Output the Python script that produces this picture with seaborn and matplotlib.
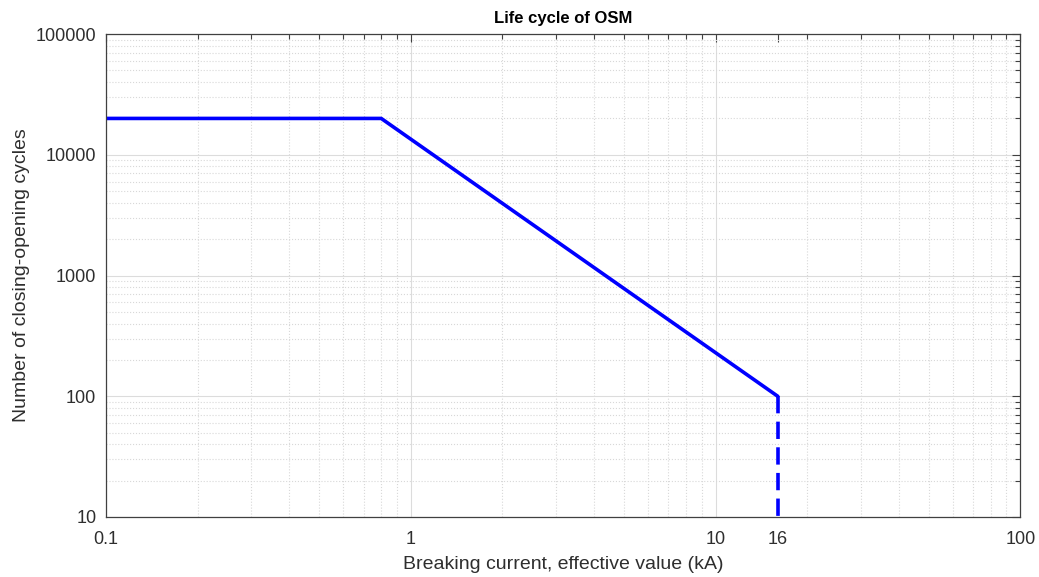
import pandas as pd
import matplotlib.pyplot as plt
import seaborn as sns
from matplotlib.ticker import FixedLocator, LogLocator, NullFormatter

# life curve of the switch
current = [0.1, 0.8, 16]
cycles = [20000, 20000, 100]
# dashed drop at rated current
drop_current = [16, 16]
drop_cycles = [100, 10]

xticks = [0.1, 1, 10, 16, 100]
xlabels = ['0.1', '1', '10', '16', '100']
yticks = [10, 100, 1000, 10000, 100000]
ylabels = ['10', '100', '1000', '10000', '100000']

sns.set_theme(style='white')
plt.rcParams['font.family'] = ['Liberation Sans', 'DejaVu Sans']

df = pd.DataFrame({'I': current, 'N': cycles})
df2 = pd.DataFrame({'I': drop_current, 'N': drop_cycles})

fig = plt.figure(figsize=(10.39, 5.77), dpi=100)
ax = fig.add_axes([0.102, 0.104, 0.880, 0.837])

sns.lineplot(x='I', y='N', data=df, ax=ax, color='#0000ff', linewidth=2.6,
             sort=False, estimator=None)
sns.lineplot(x='I', y='N', data=df2, ax=ax, color='#0000ff', linewidth=2.6,
             sort=False, estimator=None)
ax.lines[-1].set_linestyle((0, (4.8, 2.3)))

ax.set_xscale('log')
ax.set_yscale('log')
ax.set_xlim(0.1, 100)
ax.set_ylim(10, 100000)

ax.xaxis.set_major_locator(FixedLocator(xticks))
ax.set_xticklabels(xlabels)
ax.yaxis.set_major_locator(FixedLocator(yticks))
ax.set_yticklabels(ylabels)
ax.xaxis.set_minor_locator(LogLocator(base=10, subs=range(2, 10)))
ax.yaxis.set_minor_locator(LogLocator(base=10, subs=range(2, 10)))
ax.xaxis.set_minor_formatter(NullFormatter())
ax.yaxis.set_minor_formatter(NullFormatter())

ax.grid(which='major', color='#dcdcdc', linestyle='-', linewidth=0.8)
ax.grid(which='minor', color='#d8d8d8', linestyle=':', linewidth=0.8)
ax.set_axisbelow(True)
# no grid line at the 16 kA tick
ax.xaxis.get_major_ticks()[3].gridline.set_visible(False)

ax.tick_params(which='both', direction='in', top=True, right=True,
               colors='#404040', labelcolor='#2e2e2e', labelsize=13)
ax.tick_params(which='major', length=6, width=0.8)
ax.tick_params(which='minor', length=3.5, width=0.8)
ax.tick_params(axis='x', pad=10)
ax.tick_params(axis='y', pad=7)
for s in ax.spines.values():
    s.set_color('#404040')
    s.set_linewidth(0.9)

ax.set_xlabel('Breaking current, effective value (kA)', fontsize=14, color='#2e2e2e', labelpad=6)
ax.set_ylabel('Number of closing-opening cycles', fontsize=14, color='#2e2e2e', labelpad=4)
ax.set_title('Life cycle of OSM', fontsize=12, fontweight='bold', color='black', pad=8)

fig.savefig('out.png', dpi=100)
